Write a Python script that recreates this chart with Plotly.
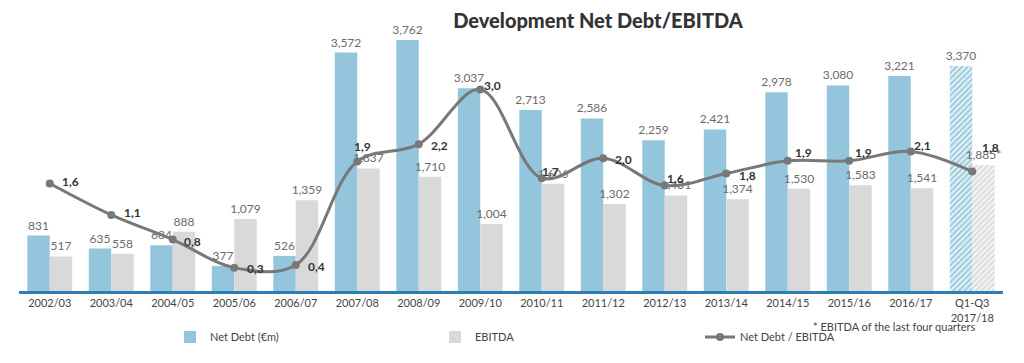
import plotly.graph_objects as go

categories = ["2002/03", "2003/04", "2004/05", "2005/06", "2006/07", "2007/08", "2008/09",
              "2009/10", "2010/11", "2011/12", "2012/13", "2013/14", "2014/15", "2015/16",
              "2016/17", "Q1-Q3<br>2017/18"]
net_debt = [831, 635, 684, 377, 526, 3572, 3762, 3037, 2713, 2586, 2259, 2421, 2978, 3080, 3221, 3370]
ebitda = [517, 558, 888, 1079, 1359, 1837, 1710, 1004, 1606, 1302, 1431, 1374, 1530, 1583, 1541, 1885]
ebitda_labels = ["517", "558", "888", "1,079", "1,359", "1,837", "1,710", "1,004", "1,606", "1,302",
                 "1,431", "1,374", "1,530", "1,583", "1,541", "1,885*"]
net_debt_labels = ["831", "635", "684", "377", "526", "3,572", "3,762", "3,037", "2,713", "2,586",
                   "2,259", "2,421", "2,978", "3,080", "3,221", "3,370"]
ratio = [1.61, 1.14, 0.77, 0.35, 0.39, 1.94, 2.20, 3.02, 1.69, 1.99, 1.58, 1.76, 1.95, 1.95, 2.09, 1.79]
ratio_labels = ["1,6", "1,1", "0,8", "0,3", "0,4", "1,9", "2,2", "3,0", "1,7", "2,0",
                "1,6", "1,8", "1,9", "1,9", "2,1", "1,8"]

# styles
BLUE = "#93c6dc"
GREY = "#d9d9d9"
LINE = "#787878"
n = len(categories)
nd_pattern = [""] * (n - 1) + ["/"]
# pixel offsets of ratio labels from their markers (dx right, dy down)
label_offsets = [(21, -2), (21, -2), (20, 2), (21, 1), (21, 2), (5, -15), (21, 1), (12, -4),
                 (9, -7), (20, 1), (11, -7), (21, 2), (16, -8), (14, -8), (12, -6), (18, -24)]

# figure is drawn inside the page body, which has an 8px margin
W, H = 1016, 355
ML, MR, MT, MB = 11, 21, 12, 72
PW, PH = W - ML - MR, H - MT - MB


def px(screen_x):
    return (screen_x - 8 - ML) / PW


def py(screen_y):
    return 1 - (screen_y - 8 - MT) / PH


fig = go.Figure()
fig.add_trace(go.Bar(
    x=categories, y=net_debt, name="Net Debt (€m)",
    marker=dict(color=BLUE, line=dict(width=0),
                pattern=dict(shape=nd_pattern, fgcolor=BLUE, bgcolor="#e4f1f7",
                             size=4, solidity=0.45, fillmode="replace")),
    text=net_debt_labels, textposition="outside", constraintext="none", cliponaxis=False,
    textfont=dict(family="Lato", size=12, color="#6b6b6b"),
))
fig.add_trace(go.Bar(
    x=categories, y=ebitda, name="EBITDA",
    marker=dict(color=GREY, line=dict(width=0),
                pattern=dict(shape=nd_pattern, fgcolor=GREY, bgcolor="#f4f4f4",
                             size=4, solidity=0.45, fillmode="replace")),
    text=ebitda_labels, textposition="outside", constraintext="none", cliponaxis=False,
    textfont=dict(family="Lato", size=12, color="#6b6b6b"),
))
fig.add_trace(go.Scatter(
    x=categories, y=ratio, name="Net Debt / EBITDA", yaxis="y2",
    mode="lines+markers", line=dict(color=LINE, width=3, shape="spline", smoothing=1.0),
    marker=dict(color=LINE, size=8), cliponaxis=False,
))

annotations = []
for cat, val, lab, (dx, dy) in zip(categories, ratio, ratio_labels, label_offsets):
    annotations.append(dict(x=cat, y=val, xref="x", yref="y2", text=lab, showarrow=False,
                            xshift=dx, yshift=-dy,
                            font=dict(family="Lato", size=12, color="#333333", weight="bold")))
annotations.append(dict(text="* EBITDA of the last four quarters", xref="paper", yref="paper",
                        x=px(978), xanchor="right", y=py(326), yanchor="middle",
                        showarrow=False, font=dict(family="Lato", size=11, color="#444444")))

fig.update_layout(
    width=W, height=H,
    margin=dict(l=ML, r=MR, t=MT, b=MB, autoexpand=False),
    paper_bgcolor="white", plot_bgcolor="white",
    barmode="group", bargap=0.27, bargroupgap=0,
    font=dict(family="Lato", color="#444444"),
    title=dict(text="Development Net Debt/EBITDA", x=px(598), xanchor="center",
               xref="paper", y=1 - (21 - 8) / H, yanchor="middle", yref="container",
               font=dict(family="Lato", size=20, color="#333333", weight=900)),
    xaxis=dict(showgrid=False, zeroline=False, showline=True, linecolor="#2e7db5", linewidth=3,
               ticks="", tickfont=dict(family="Lato", size=11, color="#444444"),
               range=[-0.5, n - 0.5]),
    yaxis=dict(range=[0, 4060], visible=False, showgrid=False, zeroline=False),
    yaxis2=dict(range=[0, 4.06], overlaying="y", visible=False, showgrid=False, zeroline=False),
    showlegend=True,
    legend=dict(orientation="h", x=px(170), xanchor="left", y=py(337),
                yanchor="middle", entrywidth=220, entrywidthmode="pixels",
                font=dict(family="Lato", size=11, color="#444444")),
    annotations=annotations,
)

fig.write_html("out.html")
